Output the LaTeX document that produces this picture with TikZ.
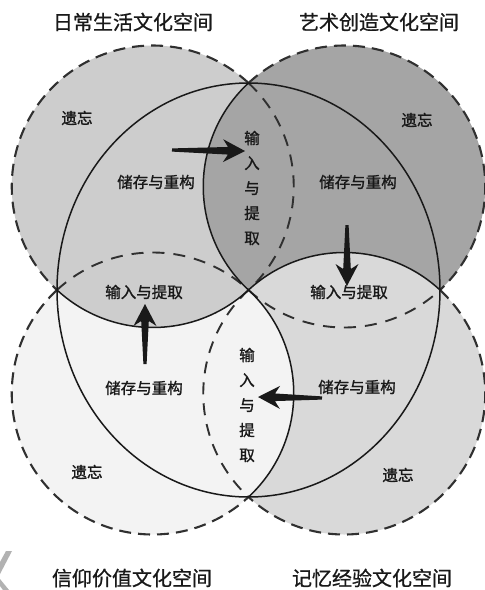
\documentclass[tikz,border=0pt]{standalone}
\usepackage{fontspec}
\setmainfont{Noto Sans CJK SC}
\newfontfamily\labfont[FakeBold=1.4]{Noto Sans CJK SC}
\newfontfamily\titfont[FakeBold=0.8]{Noto Sans CJK SC}
\usetikzlibrary{calc}
\definecolor{cTL}{RGB}{205,205,205}
\definecolor{cTR}{RGB}{165,165,165}
\definecolor{cBL}{RGB}{243,243,243}
\definecolor{cBR}{RGB}{217,217,217}
\definecolor{ink}{RGB}{25,25,25}
\newcommand\fatarrow[2]{%
  \coordinate (fa-j) at ($(#2)!17pt!(#1)$);
  \coordinate (fa-b) at ($(#2)!22pt!(#1)$);
  \fill[ink] ($(#1)!1.6pt!90:(#2)$) -- ($(fa-j)!3.8pt!90:(#2)$) -- ($(fa-b)!11.5pt!90:(#2)$) -- (#2)
    -- ($(fa-b)!11.5pt!-90:(#2)$) -- ($(fa-j)!3.8pt!-90:(#2)$) -- ($(#1)!1.6pt!-90:(#2)$) -- cycle;
}
\begin{document}
\begin{tikzpicture}[x=1pt,y=-1pt,
  outerline/.style={draw=ink!90, line width=2.1pt, dash pattern=on 12pt off 7pt},
  innerdash/.style={draw=ink!90, line width=1.9pt, dash pattern=on 12pt off 9pt},
  solidline/.style={draw=ink, line width=1.5pt},
  title/.style={font=\titfont\fontsize{20}{20}\selectfont, text=ink, inner sep=0pt},
  lab/.style={font=\labfont\fontsize{15.5}{15.5}\selectfont, text=ink, inner sep=0pt},
  vlab/.style={font=\labfont\fontsize{15.5}{25}\selectfont, text=ink, inner sep=0pt, align=center},
  big/.style={x radius=191.5pt, y radius=207pt},
  rad/.style={radius=141pt}]
\useasboundingbox (0,0) rectangle (485,590);
\fill[white] (0,0) rectangle (485,590);
% key points
\coordinate (O) at (248.5,290);
\coordinate (Ptop) at (248.5,83);
\coordinate (Pleft) at (57,290);
\coordinate (Pright) at (440,290);
\coordinate (Pbot) at (248.5,497);
\coordinate (CTL) at (152.75,186.5);
\coordinate (CTR) at (344.25,186.5);
\coordinate (CBL) at (152.75,393.5);
\coordinate (CBR) at (344.25,393.5);
% outer circle fills
\fill[cTL] (CTL) circle (141pt);
\fill[cTR] (CTR) circle (141pt);
\fill[cBL] (CBL) circle (141pt);
\fill[cBR] (CBR) circle (141pt);
% pinwheel regions inside the big ellipse
\fill[cTL] (Pleft) arc[start angle=180, end angle=90, big]
  arc[start angle=132.77, end angle=227.23, rad]
  arc[start angle=-47.23, end angle=-132.77, rad] -- cycle;
\fill[cTR] (Ptop) arc[start angle=90, end angle=0, big]
  arc[start angle=47.23, end angle=132.77, rad]
  arc[start angle=227.23, end angle=132.77, rad] -- cycle;
\fill[cBR] (Pright) arc[start angle=0, end angle=-90, big]
  arc[start angle=-47.23, end angle=47.23, rad]
  arc[start angle=132.77, end angle=47.23, rad] -- cycle;
\fill[cBL] (Pbot) arc[start angle=-90, end angle=-180, big]
  arc[start angle=-132.77, end angle=-47.23, rad]
  arc[start angle=47.23, end angle=-47.23, rad] -- cycle;
% outer dashed arcs
\draw[outerline] (Ptop) arc[start angle=47.23, end angle=227.23, rad];
\draw[outerline] (Ptop) arc[start angle=132.77, end angle=-47.23, rad];
\draw[outerline] (Pleft) arc[start angle=132.77, end angle=312.77, rad];
\draw[outerline] (Pright) arc[start angle=47.23, end angle=-132.77, rad];
% inner dashed arcs
\draw[innerdash] (Ptop) arc[start angle=47.23, end angle=-47.23, rad];
\draw[innerdash] (O) arc[start angle=227.23, end angle=312.77, rad];
\draw[innerdash] (Pleft) arc[start angle=132.77, end angle=47.23, rad];
\draw[innerdash] (O) arc[start angle=132.77, end angle=227.23, rad];
% solid lines
\draw[solidline] (O) ellipse[big];
\draw[solidline] (Ptop) arc[start angle=132.77, end angle=227.23, rad];
\draw[solidline] (O) arc[start angle=-47.23, end angle=-132.77, rad];
\draw[solidline] (O) arc[start angle=132.77, end angle=47.23, rad];
\draw[solidline] (O) arc[start angle=47.23, end angle=-47.23, rad];
% titles
\node[title] (t1) at (133,22) {日常生活文化空间};
\node[title] (t2) at (379,22) {艺术创造文化空间};
\node[title] (t3) at (132,578) {信仰价值文化空间};
\node[title] (t4) at (372,578) {记忆经验文化空间};
% forget labels
\node[lab] (f1) at (77,118) {遗忘};
\node[lab] (f2) at (417,120) {遗忘};
\node[lab] (f3) at (87,472) {遗忘};
\node[lab] (f4) at (398,475) {遗忘};
% store labels
\node[lab] (s1) at (156,182) {储存与重构};
\node[lab] (s2) at (358,182) {储存与重构};
\node[lab] (s3) at (144,388) {储存与重构};
\node[lab] (s4) at (357,387) {储存与重构};
% input labels
\node[lab] (i1) at (144,292) {输入与提取};
\node[lab] (i2) at (349,292) {输入与提取};
\node[vlab] (v1) at (252,188) {输\\入\\与\\提\\取};
\node[vlab] (v2) at (247,405) {输\\入\\与\\提\\取};
% arrows
\coordinate (a1t) at (172,150); \coordinate (a1h) at (245,151);
\coordinate (a2t) at (347,225); \coordinate (a2h) at (347,286);
\coordinate (a3t) at (145,364); \coordinate (a3h) at (145,304);
\coordinate (a4t) at (322,398); \coordinate (a4h) at (258,397);
\fatarrow{a1t}{a1h}
\fatarrow{a2t}{a2h}
\fatarrow{a3t}{a3h}
\fatarrow{a4t}{a4h}
% corner watermark fragment
\fill[black!30] (12,551) -- (6,551) -- (0,562) -- (0,574) -- cycle;
\fill[black!30] (0,579) -- (9,590) -- (3,590) -- (0,586) -- cycle;
\end{tikzpicture}
\end{document}
